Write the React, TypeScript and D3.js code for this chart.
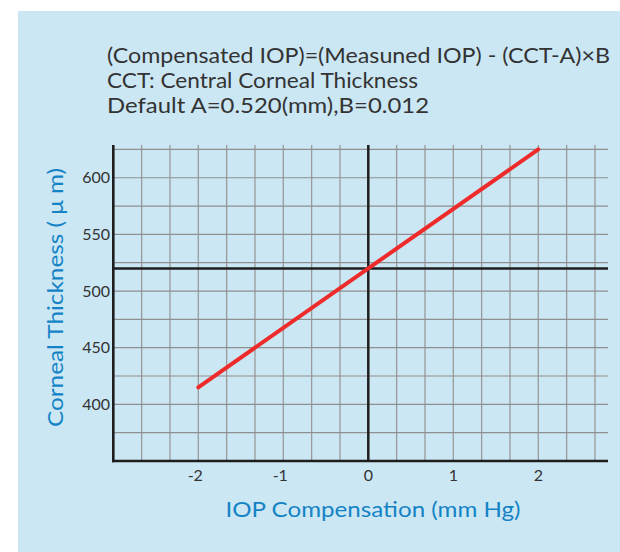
import * as d3 from "d3";
import * as React from "react";

// chart values
const iopValues = [-2, 0, 2];
const thicknessValues = [415, 520, 625];
const xTicks = [-2, -1, 0, 1, 2];
const yTicks = [400, 450, 500, 550, 600];
const refIop = 0;
const refThickness = 520;
const formulaLines = [
  "(Compensated IOP)=(Measuned IOP) - (CCT-A)×B",
  "CCT: Central Corneal  Thickness",
  "Default A=0.520(mm),B=0.012",
];
const formulaWidths = [503, 311, 322];
const xTitle = "IOP Compensation (mm Hg)";
const yTitle = "Corneal Thickness ( μ m)";

const W = 620;
const H = 552;
const FONT = "Lato, 'Open Sans', sans-serif";
const BLUE = "#1483c6";
const TEXT = "#333333";

export default function App() {
  const plot = { left: 113.3, right: 608, top: 145, bottom: 461 };

  const x = d3.scaleLinear().domain([-3, 2.82]).range([plot.left, plot.right]);
  const y = d3.scaleLinear().domain([350, 628.9]).range([plot.bottom, plot.top]);

  const vGrid = d3.range(-8, 9).map(k => k / 3);
  const hGrid = d3.range(375, 626, 25);

  const line = d3.line<number>()
    .x((_, i) => x(iopValues[i]))
    .y(d => y(d));

  return (
    <div style={{ position: "absolute", left: 0, top: 0 }}>
      <svg width={W} height={H} style={{ display: "block" }}>
        <rect x={18} y={11} width={W - 18} height={H - 11} fill="#cbe7f3" />

        {formulaLines.map((t, i) => (
          <text key={t} x={107} y={63 + i * 25} fontFamily={FONT} fontSize={21.5}
            fill={TEXT} textLength={formulaWidths[i]} lengthAdjust="spacingAndGlyphs">
            {t}
          </text>
        ))}

        {/* grid */}
        {vGrid.map(v => (
          <line key={"v" + v} x1={x(v)} x2={x(v)} y1={plot.top} y2={plot.bottom}
            stroke="#9a9a9a" strokeWidth={1.3} />
        ))}
        {hGrid.map(v => (
          <line key={"h" + v} x1={plot.left} x2={plot.right} y1={y(v)} y2={y(v)}
            stroke="#8f8f8f" strokeWidth={1.2} />
        ))}

        {/* reference cross */}
        <line x1={x(refIop)} x2={x(refIop)} y1={plot.top} y2={plot.bottom}
          stroke="#1e1e1e" strokeWidth={2.5} />
        <line x1={plot.left} x2={plot.right} y1={y(refThickness)} y2={y(refThickness)}
          stroke="#1e1e1e" strokeWidth={2.5} />

        {/* axes */}
        <line x1={plot.left} x2={plot.left} y1={plot.top} y2={plot.bottom + 1.2}
          stroke="#1e1e1e" strokeWidth={2.6} />
        <line x1={plot.left - 1.3} x2={plot.right} y1={plot.bottom} y2={plot.bottom}
          stroke="#1e1e1e" strokeWidth={2.4} />

        <path d={line(thicknessValues) ?? ""} fill="none" stroke="#ee2b2b"
          strokeWidth={4} strokeLinecap="round" />

        {yTicks.map(v => (
          <text key={"yt" + v} x={110} y={y(v)} dy="0.35em" textAnchor="end"
            fontFamily={FONT} fontSize={16} fill={TEXT}>{v}</text>
        ))}
        {xTicks.map(v => (
          <text key={"xt" + v} x={x(v) - (v < 0 ? 3 : 0)} y={480.5} textAnchor="middle"
            fontFamily={FONT} fontSize={16} fill={TEXT}>{v}</text>
        ))}

        <text x={373} y={517} textAnchor="middle" fontFamily={FONT} fontSize={21.5}
          fill={BLUE} textLength={295} lengthAdjust="spacingAndGlyphs">{xTitle}</text>
        <text transform="translate(63,297.5) rotate(-90)" textAnchor="middle"
          fontFamily={FONT} fontSize={21.5} fill={BLUE} textLength={259}
          lengthAdjust="spacingAndGlyphs">{yTitle}</text>
      </svg>
    </div>
  );
}
